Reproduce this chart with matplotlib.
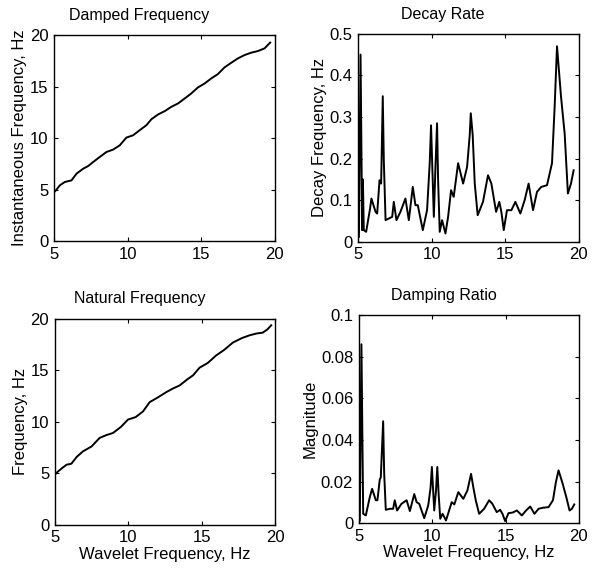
"""Modal parameters identified from the wavelet ridge: four-panel summary."""
import matplotlib as mpl
import matplotlib.pyplot as plt
import numpy as np

mpl.rcParams.update({
    "font.family": ["Liberation Sans", "DejaVu Sans"], "font.size": 12,
    "axes.linewidth": 1.0, "xtick.direction": "in", "ytick.direction": "in",
    "xtick.top": True, "ytick.right": True, "xtick.major.size": 3,
    "ytick.major.size": 3,
})

# damped (instantaneous) frequency, Hz
damped_x = [5.0, 5.16, 5.38, 5.72, 6.18, 6.52, 6.97, 7.31, 7.65, 8.1, 8.55,
            9.0, 9.46, 9.91, 10.36, 10.81, 11.27, 11.61, 12.06, 12.51, 12.96,
            13.42, 13.87, 14.32, 14.77, 15.23, 15.68, 16.13, 16.58, 17.04,
            17.49, 17.94, 18.39, 18.85, 19.3, 19.52, 19.68]
damped_y = [4.76, 5.0, 5.41, 5.74, 5.9, 6.55, 7.03, 7.29, 7.68, 8.17, 8.65,
            8.88, 9.3, 10.05, 10.27, 10.76, 11.25, 11.83, 12.29, 12.61, 13.03,
            13.36, 13.84, 14.33, 14.91, 15.3, 15.79, 16.21, 16.86, 17.31,
            17.73, 18.05, 18.28, 18.44, 18.7, 19.03, 19.26]

# natural frequency, Hz
natural_x = [5.0, 5.2, 5.5, 5.8, 6.13, 6.5, 6.92, 7.5, 8.05, 8.5, 8.96, 9.5,
             9.98, 10.5, 11.0, 11.45, 12.0, 12.58, 13.0, 13.49, 14.0, 14.4,
             14.84, 15.4, 15.97, 16.5, 17.1, 17.7, 18.24, 18.7, 19.14, 19.45,
             19.71]
natural_y = [4.86, 5.15, 5.5, 5.83, 5.93, 6.6, 7.13, 7.6, 8.43, 8.7, 8.91,
             9.5, 10.21, 10.45, 11.0, 11.9, 12.35, 12.87, 13.2, 13.52, 14.1,
             14.5, 15.24, 15.7, 16.43, 16.95, 17.67, 18.1, 18.38, 18.55, 18.64,
             18.95, 19.35]

# decay rate, Hz
decay_x = [5.05, 5.16, 5.27, 5.32, 5.38, 5.54, 5.79, 5.9, 6.18, 6.29, 6.45,
           6.56, 6.67, 6.74, 6.86, 7.08, 7.31, 7.42, 7.6, 7.87, 8.21, 8.44,
           8.71, 8.89, 9.05, 9.39, 9.68, 9.86, 9.95, 10.14, 10.25, 10.36,
           10.43, 10.54, 10.7, 10.93, 11.11, 11.31, 11.49, 11.79, 12.13, 12.4,
           12.58, 12.65, 12.78, 12.92, 13.12, 13.48, 13.82, 14.05, 14.37,
           14.59, 14.73, 14.89, 15.11, 15.41, 15.68, 16.02, 16.31, 16.58,
           16.88, 17.15, 17.44, 17.83, 18.17, 18.35, 18.51, 18.78, 19.03,
           19.25, 19.46, 19.64]
decay_y = [0.012, 0.45, 0.028, 0.15, 0.028, 0.024, 0.076, 0.104, 0.072, 0.068,
           0.148, 0.14, 0.35, 0.197, 0.052, 0.056, 0.06, 0.096, 0.052, 0.072,
           0.104, 0.052, 0.132, 0.088, 0.088, 0.028, 0.076, 0.189, 0.28, 0.06,
           0.18, 0.285, 0.148, 0.024, 0.052, 0.02, 0.06, 0.124, 0.108, 0.189,
           0.14, 0.18, 0.257, 0.309, 0.257, 0.14, 0.064, 0.096, 0.16, 0.14,
           0.072, 0.096, 0.072, 0.028, 0.076, 0.076, 0.096, 0.068, 0.1, 0.14,
           0.076, 0.12, 0.132, 0.136, 0.189, 0.325, 0.47, 0.35, 0.26, 0.116,
           0.14, 0.172]

# damping ratio
ratio_x = [5.07, 5.18, 5.3, 5.48, 5.75, 5.91, 6.16, 6.27, 6.43, 6.5, 6.66,
           6.73, 6.84, 7.12, 7.34, 7.45, 7.61, 7.91, 8.26, 8.48, 8.78, 8.94,
           9.12, 9.46, 9.73, 9.89, 9.98, 10.14, 10.26, 10.35, 10.44, 10.55,
           10.71, 10.94, 11.12, 11.33, 11.51, 11.78, 12.12, 12.4, 12.65, 12.81,
           12.97, 13.2, 13.54, 13.88, 14.1, 14.4, 14.63, 14.79, 14.97, 15.2,
           15.49, 15.77, 16.11, 16.4, 16.68, 16.97, 17.25, 17.54, 17.93, 18.23,
           18.43, 18.61, 18.89, 19.14, 19.36, 19.52, 19.68]
ratio_y = [0.0013, 0.086, 0.0045, 0.0037, 0.0125, 0.0165, 0.011, 0.011, 0.021,
           0.022, 0.049, 0.024, 0.0064, 0.0069, 0.0069, 0.011, 0.0061, 0.0093,
           0.011, 0.0058, 0.014, 0.0101, 0.0093, 0.0024, 0.0085, 0.017, 0.027,
           0.0061, 0.0157, 0.027, 0.014, 0.0021, 0.0045, 0.0013, 0.0053,
           0.0101, 0.009, 0.0149, 0.0117, 0.0157, 0.0237, 0.017, 0.011, 0.0045,
           0.0069, 0.011, 0.0093, 0.0053, 0.0064, 0.0045, 0.001, 0.0048,
           0.0051, 0.0061, 0.0037, 0.0061, 0.008, 0.0045, 0.0069, 0.0074,
           0.0077, 0.011, 0.0197, 0.0254, 0.019, 0.0125, 0.0061, 0.0069, 0.009]


def panel(fig, rect, x, y, title, ylabel, yticks, xlabel=None):
    ax = fig.add_axes(rect)
    ax.plot(x, y, color="black", lw=1.4)
    ax.set_xlim(5, 20)
    ax.set_xticks([5, 10, 15, 20])
    ax.set_ylim(yticks[0], yticks[-1])
    ax.set_yticks(yticks)
    # the scanned original has its titles sitting left of the axes centre
    ax.set_title(title, fontsize=11.5, x=0.385, pad=11)
    ax.set_ylabel(ylabel, labelpad=2)
    if xlabel:
        ax.set_xlabel(xlabel, labelpad=1)
    ax.tick_params(labelsize=12, pad=4)
    return ax


fig = plt.figure(figsize=(5.95, 5.73), dpi=100)
panel(fig, [0.091, 0.579, 0.371, 0.360], damped_x, damped_y,
      "Damped Frequency", "Instantaneous Frequency, Hz", [0, 5, 10, 15, 20])
ax = panel(fig, [0.602, 0.578, 0.371, 0.363], decay_x, decay_y,
           "Decay Rate", "Decay Frequency, Hz", [0, 0.1, 0.2, 0.3, 0.4, 0.5])
ax.set_yticklabels(["0", "0.1", "0.2", "0.3", "0.4", "0.5"])
panel(fig, [0.092, 0.084, 0.371, 0.360], natural_x, natural_y,
      "Natural Frequency", "Frequency, Hz", [0, 5, 10, 15, 20],
      "Wavelet Frequency, Hz")
ax = panel(fig, [0.603, 0.087, 0.370, 0.363], ratio_x, ratio_y,
           "Damping Ratio", "Magnitude", [0, 0.02, 0.04, 0.06, 0.08, 0.1],
           "Wavelet Frequency, Hz")
ax.set_yticklabels(["0", "0.02", "0.04", "0.06", "0.08", "0.1"])
fig.savefig("out.png", dpi=100)
